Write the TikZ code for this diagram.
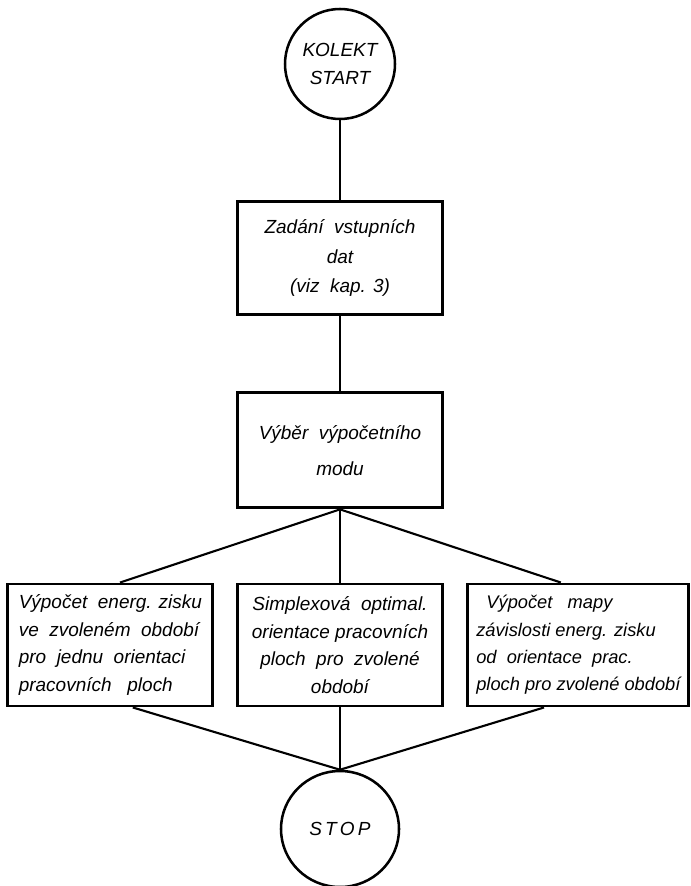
\documentclass[tikz,border=0pt]{standalone}
\usepackage{fontspec}
\setmainfont{Liberation Sans}
\usetikzlibrary{shapes.geometric}

\begin{document}
\begin{tikzpicture}[line width=1.5pt, font=\itshape\fontsize{13.5}{19.5}\selectfont,
  b/.style={draw, line width=2.1pt, align=center, inner sep=2pt, minimum width=5.125cm},
  term/.style={draw, line width=1.8pt, align=center}]
\useasboundingbox (0,0) rectangle (17.275,-22.15);
\node[term, circle, minimum size=2.75cm] (start) at (8.5,-1.6) {KOLEKT\\START};
\node[b, minimum height=2.825cm, font=\itshape\fontsize{13.5}{21}\selectfont] (inp) at (8.5,-6.46) {Zadání\ \ vstupních\\dat\\(viz\ \ kap. 3)};
\node[b, minimum height=2.875cm, font=\itshape\fontsize{13.5}{26}\selectfont] (sel) at (8.5,-11.26) {Výběr\ \ výpočetního\\modu};
\node[b, minimum height=3.05cm, align=left] (lb) at (2.76,-16.125) {Výpočet\ \ energ. zisku\\ve\ \ zvoleném\ \ období\\pro\ \ jednu\ \ orientaci\\pracovních\ \ \ ploch};
\node[b, minimum height=3.05cm] (cb) at (8.5,-16.125) {Simplexová\ \ optimal.\\orientace pracovních\\ploch\ \ pro\ \ zvolené\\období};
\node[b, minimum height=3.05cm, minimum width=5.525cm, align=left, font=\itshape\fontsize{13}{19.5}\selectfont] (rb) at (14.46,-16.125) {\ \ Výpočet\ \ \ mapy\\závislosti energ. zisku\\od\ \ orientace\ \ prac.\\ploch pro zvolené období};
\node[term, ellipse, minimum width=2.95cm, minimum height=2.9cm] (stop) at (8.5,-20.725) {S\,T\,O\,P};
% spoje
\draw (start) -- (inp);
\draw (inp) -- (sel);
\draw (sel.south) -- ([xshift=0.24cm]lb.north);
\draw (sel.south) -- (cb.north);
\draw (sel.south) -- ([xshift=-0.44cm]rb.north);
\draw ([xshift=0.56cm]lb.south) -- (stop.north);
\draw (cb.south) -- (stop.north);
\draw ([xshift=-0.86cm]rb.south) -- (stop.north);
\end{tikzpicture}
\end{document}
